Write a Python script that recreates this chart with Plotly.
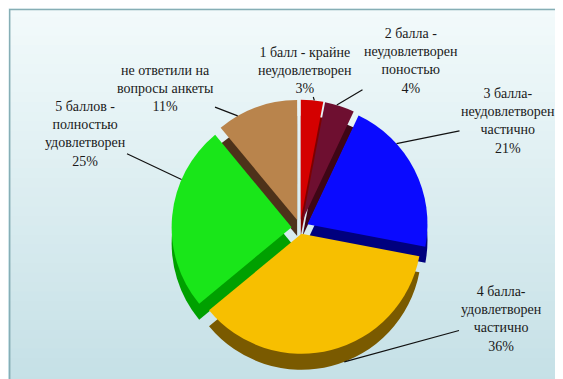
import math
import plotly.graph_objects as go

# ---- data ----
labels = ["1 балл - крайне неудовлетворен", "2 балла - неудовлетворен поностью",
          "3 балла- неудовлетворен частично", "4 балла- удовлетворен частично",
          "5 баллов - полностью удовлетворен", "не ответили на вопросы анкеты"]
values = [3, 4, 21, 36, 25, 11]
label_text = ["1 балл - крайне<br>неудовлетворен<br>3%",
              "2 балла -<br>неудовлетворен<br>поностью<br>4%",
              "3 балла-<br>неудовлетворен<br>частично<br>21%",
              "4 балла-<br>удовлетворен<br>частично<br>36%",
              "5 баллов -<br>полностью<br>удовлетворен<br>25%",
              "не ответили на<br>вопросы анкеты<br>11%"]
top_colors = ["#d40000", "#6e0f30", "#0a0aff", "#f7bf00", "#19e619", "#b9844c"]
side_colors = ["#7e0000", "#3e0616", "#00007e", "#7a5a00", "#00a000", "#4d321a"]

FONT = "'Liberation Serif', 'Times New Roman', 'DejaVu Serif', serif"

# ---- layout constants ----
W, H = 563, 379
cx, cy = 292, 220
depth = 16
pulls = [0.07, 0.07, 0.07, 0.05, 0.07, 0.07]
maxpull = max(pulls)
r = 120
box = r * (2 + 2 * maxpull)

def dom(cxp, cyp):
    xc = cxp / W
    yc = 1 - cyp / H
    return dict(x=[xc - box / W / 2, xc + box / W / 2], y=[yc - box / H / 2, yc + box / H / 2])

fig = go.Figure()
fig.add_trace(go.Pie(labels=labels, values=values, sort=False, direction="clockwise",
                     rotation=0, pull=pulls, marker=dict(colors=side_colors, line=dict(width=0)),
                     textinfo="none", hoverinfo="skip", showlegend=False,
                     domain=dom(cx, cy + depth)))
fig.add_trace(go.Pie(labels=labels, values=values, sort=False, direction="clockwise",
                     rotation=0, pull=pulls, marker=dict(colors=top_colors, line=dict(width=0)),
                     textinfo="none", showlegend=False, domain=dom(cx, cy)))

# label positions (text block centres, pixels) and where leader meets the slice
label_pos = [(297, 62), (403, 53), (500, 113), (493, 311), (77, 126), (157, 80)]
tip_in_slice = [0.6, 0.4, 0.3, 0.45, 0.7, 0.25]
tip_extra = [0, 0, 0, 1, 0, 0]
total = sum(values)
cum = 0
annotations = []
for i, v in enumerate(values):
    ang = 2 * math.pi * (cum + v * tip_in_slice[i]) / total
    mid = 2 * math.pi * (cum + v / 2) / total
    cum += v
    ox = pulls[i] * r * math.sin(mid)
    oy = -pulls[i] * r * math.cos(mid)
    tx = cx + ox + r * math.sin(ang)
    ty = cy + oy - r * math.cos(ang) + tip_extra[i] * depth
    lx, ly = label_pos[i]
    annotations.append(dict(x=tx, y=ty, xref="x", yref="y", ax=lx, ay=ly, axref="x", ayref="y",
                            text=label_text[i], showarrow=True, arrowhead=0, arrowwidth=1.2,
                            arrowcolor="#111111", standoff=0, startstandoff=0,
                            font=dict(family=FONT, size=14, color="#1a1a1a"),
                            align="center"))

# background gradient
shapes = []
n = 40
c0 = (242, 250, 251)
c1 = (197, 224, 230)
for k in range(n):
    t = k / (n - 1)
    col = "rgb(%d,%d,%d)" % tuple(round(c0[j] + (c1[j] - c0[j]) * t) for j in range(3))
    shapes.append(dict(type="rect", xref="paper", yref="paper", x0=0, x1=1,
                       y0=1 - (k + 1) / n, y1=1 - k / n + 0.002, fillcolor=col,
                       line=dict(width=0), layer="below"))
shapes.append(dict(type="rect", xref="paper", yref="paper", x0=0.003, x1=0.997, y0=0.004, y1=0.996,
                   line=dict(color="#86aeb5", width=1.5), fillcolor="rgba(0,0,0,0)", layer="above"))

fig.update_layout(
    width=W, height=H, margin=dict(l=0, r=0, t=0, b=0),
    paper_bgcolor="#dcedf1", plot_bgcolor="rgba(0,0,0,0)",
    font=dict(family=FONT),
    xaxis=dict(range=[0, W], visible=False, domain=[0, 1], fixedrange=True),
    yaxis=dict(range=[H, 0], visible=False, domain=[0, 1], fixedrange=True),
    annotations=annotations, shapes=shapes, showlegend=False,
)
fig.write_html("out.html")
